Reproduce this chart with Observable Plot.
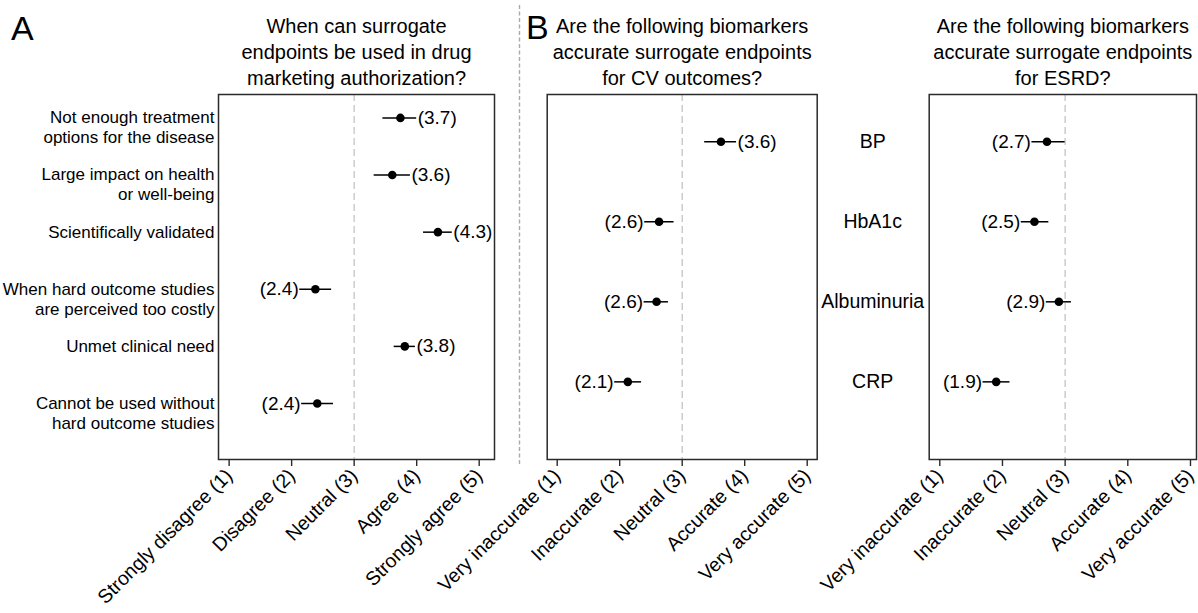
<!DOCTYPE html>
<html><head><meta charset="utf-8">
<script src="https://cdn.jsdelivr.net/npm/d3@7"></script>
<script src="https://cdn.jsdelivr.net/npm/@observablehq/plot@0.6"></script>
<style>
html,body{margin:0;padding:0;background:#fff;}
#fig{position:relative;width:1198px;height:613px;font-family:"Liberation Sans",Arial,sans-serif;overflow:hidden;background:#fff;}
#fig > svg{position:absolute;left:0;top:0;}
.tag{position:absolute;font-size:34px;line-height:1;color:#000;}
</style></head><body>
<div id="fig"></div>
<script>
// ---- Data ----
const agreeTicks = ["Strongly disagree (1)", "Disagree (2)", "Neutral (3)", "Agree (4)", "Strongly agree (5)"];
const accuracyTicks = ["Very inaccurate (1)", "Inaccurate (2)", "Neutral (3)", "Accurate (4)", "Very accurate (5)"];
const tickValues = [1, 2, 3, 4, 5];

const questions = [
  "Not enough treatment\noptions for the disease",
  "Large impact on health\nor well-being",
  "Scientifically validated",
  "When hard outcome studies\nare perceived too costly",
  "Unmet clinical need",
  "Cannot be used without\nhard outcome studies"
];
const questionMean = [3.74, 3.61, 4.34, 2.38, 3.81, 2.41];
const questionLo   = [3.46, 3.32, 4.11, 2.13, 3.64, 2.16];
const questionHi   = [4.00, 3.90, 4.57, 2.64, 3.98, 2.67];
const questionText = ["3.7", "3.6", "4.3", "2.4", "3.8", "2.4"];

const biomarkers = ["BP", "HbA1c", "Albuminuria", "CRP"];
const cvMean = [3.62, 2.63, 2.59, 2.13];
const cvLo   = [3.36, 2.40, 2.39, 1.92];
const cvHi   = [3.87, 2.87, 2.78, 2.35];
const cvText = ["3.6", "2.6", "2.6", "2.1"];

const esrdMean = [2.71, 2.51, 2.90, 1.90];
const esrdLo   = [2.47, 2.30, 2.70, 1.69];
const esrdHi   = [3.00, 2.74, 3.10, 2.12];
const esrdText = ["2.7", "2.5", "2.9", "1.9"];

const titleA = "When can surrogate\nendpoints be used in drug\nmarketing authorization?";
const titleCV = "Are the following biomarkers\naccurate surrogate endpoints\nfor CV outcomes?";
const titleESRD = "Are the following biomarkers\naccurate surrogate endpoints\nfor ESRD?";

// ---- Drawing ----
const W = 1198, H = 613;
const FONT = "'Liberation Sans', Arial, sans-serif";

function panel({mean, lo, hi, text, xDomain, yDomain, marginLeft, marginRight, title, ticks, yLabels, midLabels}) {
  const rows = mean.map((m, i) => ({i, mean: m, lo: lo[i], hi: hi[i], text: `(${text[i]})`}));
  const marks = [
    Plot.ruleX([3], {stroke: "#c4c4c4", strokeWidth: 1.3, strokeDasharray: "7,4"}),
    Plot.frame({stroke: "#2a2a2a", strokeWidth: 1.5}),
    Plot.ruleY(rows, {y: "i", x1: "lo", x2: "hi", stroke: "#000", strokeWidth: 1.5}),
    Plot.dot(rows, {x: "mean", y: "i", r: 4.3, fill: "#000", stroke: "none"}),
    Plot.text(rows.filter(d => d.mean < 3), {x: "lo", y: "i", text: "text", textAnchor: "end", dx: -1, fontSize: 19, fill: "#000"}),
    Plot.text(rows.filter(d => d.mean >= 3), {x: "hi", y: "i", text: "text", textAnchor: "start", dx: 1, fontSize: 19, fill: "#000"}),
    Plot.axisX({ticks: tickValues, tickFormat: d => ticks[d - 1], tickRotate: -45, fontSize: 19.5, tickSize: 7, tickPadding: 6, label: null, stroke: "#2a2a2a", strokeWidth: 1.4}),
    Plot.text([title], {frameAnchor: "top", lineAnchor: "bottom", dy: -10, fontSize: 20, lineHeight: 1.28, fill: "#000"})
  ];
  if (yLabels) {
    marks.push(Plot.text(rows, {y: "i", text: d => yLabels[d.i], frameAnchor: "left", textAnchor: "end", lineAnchor: "top", dx: -4, dy: -8.8, fontSize: 17, lineHeight: 1.176, fill: "#000"}));
  }
  if (midLabels) {
    marks.push(Plot.text(rows, {y: "i", text: d => midLabels[d.i], frameAnchor: "right", textAnchor: "middle", dx: 55.5, fontSize: 19.5, fill: "#000"}));
  }
  return Plot.plot({
    width: W, height: H,
    marginLeft, marginRight, marginTop: 94, marginBottom: 154,
    style: {fontFamily: FONT, background: "transparent", overflow: "visible", color: "#000"},
    x: {domain: xDomain, axis: null},
    y: {domain: yDomain, reverse: true, axis: null},
    marks
  });
}

const fig = document.getElementById("fig");

fig.appendChild(panel({
  mean: questionMean, lo: questionLo, hi: questionHi, text: questionText,
  xDomain: [0.83, 5.245], yDomain: [-0.41, 5.98],
  marginLeft: 218, marginRight: W - 494,
  title: titleA, ticks: agreeTicks, yLabels: questions
}));

fig.appendChild(panel({
  mean: cvMean, lo: cvLo, hi: cvHi, text: cvText,
  xDomain: [0.84, 5.16], yDomain: [-0.59, 3.97],
  marginLeft: 546.7, marginRight: W - 816.7,
  title: titleCV, ticks: accuracyTicks, midLabels: biomarkers
}));

fig.appendChild(panel({
  mean: esrdMean, lo: esrdLo, hi: esrdHi, text: esrdText,
  xDomain: [0.831, 5.096], yDomain: [-0.59, 3.97],
  marginLeft: 928.7, marginRight: W - 1196,
  title: titleESRD, ticks: accuracyTicks
}));

// separator and panel tags
const sep = document.createElementNS("http://www.w3.org/2000/svg", "svg");
sep.setAttribute("width", W); sep.setAttribute("height", H);
sep.innerHTML = '<line x1="519.5" x2="519.5" y1="5" y2="465" stroke="#aaa" stroke-width="1.4" stroke-dasharray="4,2.5"/>';
fig.appendChild(sep);

const tagA = document.createElement("div");
tagA.className = "tag"; tagA.textContent = "A";
tagA.style.left = "11px"; tagA.style.top = "11px";
fig.appendChild(tagA);
const tagB = document.createElement("div");
tagB.className = "tag"; tagB.textContent = "B";
tagB.style.left = "526px"; tagB.style.top = "10px";
fig.appendChild(tagB);
</script>
</body></html>
